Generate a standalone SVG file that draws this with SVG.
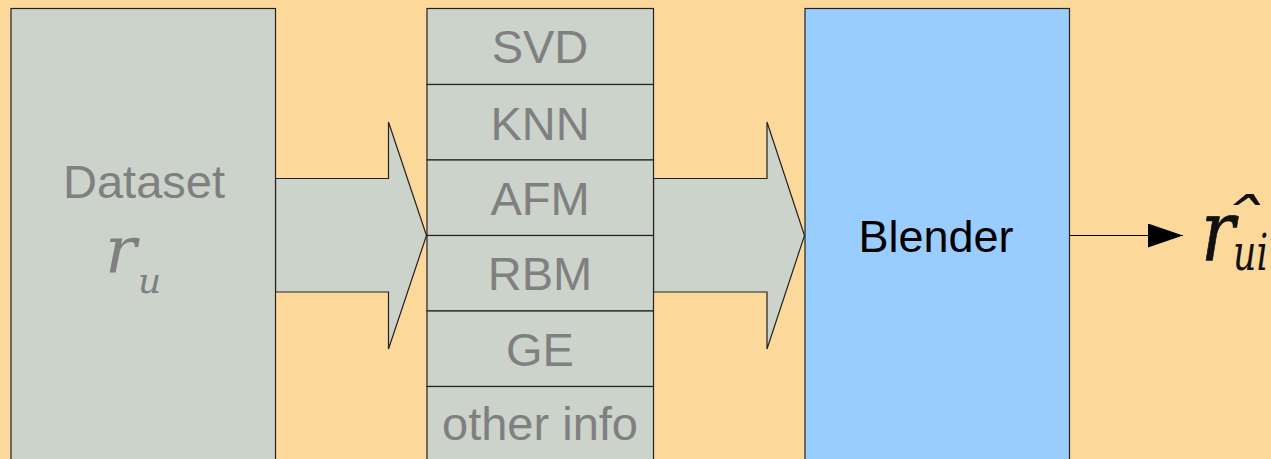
<svg xmlns="http://www.w3.org/2000/svg" width="1271" height="459" viewBox="0 0 1271 459">
<defs>
<style>
.box{fill:#ccd3cb;stroke:#222;stroke-width:1.2}
.lbl{font-family:"Liberation Sans",Arial,sans-serif;font-size:47px;fill:#808080;text-anchor:middle}
.math{font-family:"DejaVu Serif",serif;font-style:italic}
</style>
<marker id="ah" markerWidth="35" markerHeight="24" refX="35" refY="12" orient="auto" markerUnits="userSpaceOnUse">
<path d="M0,0 L35,12 L0,24 Z" fill="#000"/>
</marker>
</defs>
<rect width="1271" height="459" fill="#fdd89b"/>
<g id="connectors">
<polygon class="box" points="275.5,178.5 388.5,178.5 388.5,122 426.5,235.5 388.5,349 388.5,292 275.5,292"/>
<polygon class="box" points="653.5,178.5 767,178.5 767,122 804.5,235.5 767,349 767,292 653.5,292"/>
<line x1="1069.5" y1="235.5" x2="1183" y2="235.5" stroke="#000" stroke-width="1.2" marker-end="url(#ah)"/>
</g>
<g id="dataset">
<rect class="box" x="11" y="8.5" width="264.5" height="460"/>
<text class="lbl" x="144" y="198">Dataset</text>
<text class="math" x="105" y="273" font-size="66" fill="#808080">r</text>
<text class="math" x="138" y="293" font-size="36" fill="#808080">u</text>
</g>
<g id="models">
<rect class="box" x="427" y="8.5" width="226.5" height="76"/>
<text class="lbl" x="540" y="63">SVD</text>
<rect class="box" x="427" y="84.5" width="226.5" height="75.5"/>
<text class="lbl" x="540" y="140">KNN</text>
<rect class="box" x="427" y="160" width="226.5" height="75.5"/>
<text class="lbl" x="540" y="215">AFM</text>
<rect class="box" x="427" y="235.5" width="226.5" height="75.5"/>
<text class="lbl" x="540" y="290">RBM</text>
<rect class="box" x="427" y="311" width="226.5" height="75.5"/>
<text class="lbl" x="540" y="366">GE</text>
<rect class="box" x="427" y="386.5" width="226.5" height="90"/>
<text class="lbl" x="540" y="440">other info</text>
</g>
<g id="blender">
<rect x="805" y="8.5" width="264.5" height="460" fill="#99ccff" stroke="#222" stroke-width="1.2"/>
<text x="936" y="252" font-family="Liberation Sans,Arial,sans-serif" font-size="45" fill="#000" text-anchor="middle">Blender</text>
</g>
<g id="output">
<text class="math" x="1201" y="260" font-size="84" fill="#111" stroke="#111" stroke-width="0.7" textLength="34" lengthAdjust="spacingAndGlyphs">r</text>
<text class="math" x="1218" y="242" font-size="60" fill="#111" textLength="44" lengthAdjust="spacingAndGlyphs">ˆ</text>
<text class="math" x="1233" y="270" font-size="50" fill="#111" textLength="35" lengthAdjust="spacingAndGlyphs">ui</text>
</g>
</svg>
